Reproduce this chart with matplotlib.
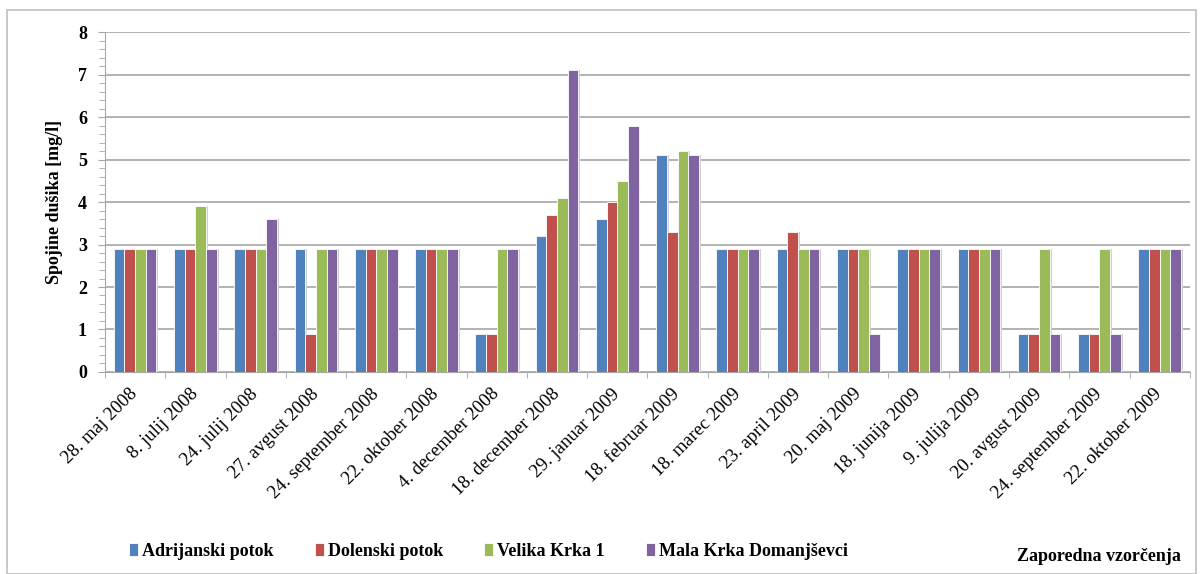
import matplotlib.pyplot as plt
import matplotlib.patches as mpatches
import numpy as np
from matplotlib.ticker import MultipleLocator

plt.rcParams['font.family'] = ['Liberation Serif', 'DejaVu Serif']

# datumi vzorčenja
datumi = ['28. maj 2008', '8. julij 2008', '24. julij 2008', '27. avgust 2008',
          '24. september 2008', '22. oktober 2008', '4. december 2008',
          '18. december 2008', '29. januar 2009', '18. februar 2009',
          '18. marec 2009', '23. april 2009', '20. maj 2009', '18. junija 2009',
          '9. julija 2009', '20. avgust 2009', '24. september 2009',
          '22. oktober 2009']

adrijanski = [2.9, 2.9, 2.9, 2.9, 2.9, 2.9, 0.9, 3.2, 3.6, 5.1, 2.9, 2.9, 2.9, 2.9, 2.9, 0.9, 0.9, 2.9]
dolenski = [2.9, 2.9, 2.9, 0.9, 2.9, 2.9, 0.9, 3.7, 4.0, 3.3, 2.9, 3.3, 2.9, 2.9, 2.9, 0.9, 0.9, 2.9]
velika_krka = [2.9, 3.9, 2.9, 2.9, 2.9, 2.9, 2.9, 4.1, 4.5, 5.2, 2.9, 2.9, 2.9, 2.9, 2.9, 2.9, 2.9, 2.9]
mala_krka = [2.9, 2.9, 3.6, 2.9, 2.9, 2.9, 2.9, 7.1, 5.8, 5.1, 2.9, 2.9, 0.9, 2.9, 2.9, 0.9, 0.9, 2.9]

serije = [('Adrijanski potok', adrijanski, '#4F81BD'),
          ('Dolenski potok', dolenski, '#C0504D'),
          ('Velika Krka 1', velika_krka, '#9BBB59'),
          ('Mala Krka Domanjševci', mala_krka, '#8064A2')]

fig = plt.figure(figsize=(12.03, 5.74), dpi=100)
ax = fig.add_axes([0.0873, 0.352, 0.9017, 0.592])

# okvir slike
fig.patches.append(mpatches.Rectangle((0.006, 0.0), 0.988, 0.983, transform=fig.transFigure,
                                      fill=False, edgecolor='#BFBFBF', linewidth=1.2))

x = np.arange(len(datumi))
w = 0.177
for i, (ime, vrednosti, barva) in enumerate(serije):
    # rahla senca desno od stolpca
    ax.bar(x + (i - 1.5) * w + 0.03, vrednosti, w, color='#D0D0D0', linewidth=0,
           zorder=2)
    ax.bar(x + (i - 1.5) * w, vrednosti, w, color=barva, edgecolor='white',
           linewidth=0.6, label=ime, zorder=3)

ax.set_xlim(-0.5, len(datumi) - 0.5)
ax.set_ylim(0, 8)
ax.yaxis.set_major_locator(MultipleLocator(1))
ax.yaxis.set_minor_locator(MultipleLocator(0.2))
ax.grid(axis='y', which='major', color='#A6A6A6', linewidth=1.2, zorder=0)

ax.set_xticks(x)
ax.set_xticklabels(datumi, rotation=45, ha='right', va='center', rotation_mode='anchor',
                   fontsize=13.5)
ax.set_xticks(np.arange(-0.5, len(datumi)), minor=True)
ax.tick_params(axis='x', which='major', length=0, pad=14)
ax.tick_params(axis='x', which='minor', length=4, color='#A6A6A6')
ax.tick_params(axis='y', which='major', length=5, color='#A6A6A6', labelsize=13, pad=8)
ax.tick_params(axis='y', which='minor', length=4, color='#A6A6A6')
for lbl in ax.get_yticklabels():
    lbl.set_fontweight('bold')

for s in ['top', 'right']:
    ax.spines[s].set_visible(False)
ax.spines['left'].set_color('#A6A6A6')
ax.spines['bottom'].set_color('#A6A6A6')

ax.set_ylabel('Spojine dušika [mg/l]', fontsize=13, fontweight='bold', labelpad=11)

fig.legend(loc='center left', bbox_to_anchor=(0.094, 0.04), ncol=4, frameon=False,
           prop={'weight': 'bold', 'size': 13}, handlelength=0.5, handleheight=0.7,
           handletextpad=0.2, columnspacing=2.3)
fig.text(0.982, 0.03, 'Zaporedna vzorčenja', ha='right', va='center',
         fontsize=13, fontweight='bold')

fig.savefig('out.png', dpi=100)
